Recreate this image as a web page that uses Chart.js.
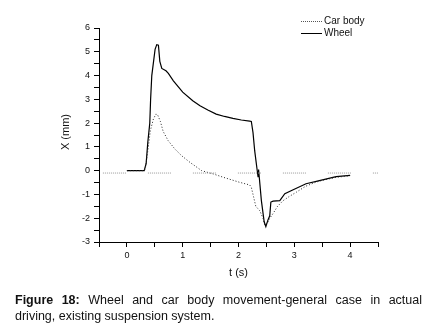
<!DOCTYPE html>
<html>
<head>
<meta charset="utf-8">
<script src="https://cdn.jsdelivr.net/npm/chart.js@4"></script>
<style>
  html, body { margin: 0; padding: 0; background: #fff; }
  #wrap { position: relative; width: 442px; height: 331px; }
  #chart { position: absolute; left: 0; top: 0; }
  #caption {
    position: absolute; left: 15px; top: 292px; width: 407px;
    font: 12.5px "Liberation Sans", Arial, sans-serif; line-height: 16px;
    color: #111;
  }
  #caption .l1 { text-align: justify; text-align-last: justify; white-space: nowrap; }
</style>
</head>
<body>
<div id="wrap">
  <canvas id="chart" width="442" height="331"></canvas>
  <div id="caption">
    <div class="l1"><b>Figure 18:</b> Wheel and car body movement-general case in actual</div>
    <div>driving, existing suspension system.</div>
  </div>
</div>
<script>
// time (s) and displacement (mm)
const wheelT = [0, 0.31, 0.345, 0.375, 0.41, 0.425, 0.446, 0.505, 0.535, 0.565, 0.59, 0.625, 0.7, 0.743, 0.833, 1.0, 1.18, 1.31, 1.45, 1.6, 1.75, 1.9, 2.05, 2.2, 2.23, 2.26, 2.29, 2.33, 2.35, 2.36, 2.41, 2.46, 2.49, 2.53, 2.56, 2.58, 2.62, 2.74, 2.83, 2.98, 3.21, 3.45, 3.75, 4.0];
const wheelX = [0, 0, 0.3, 1.2, 2.0, 3.0, 4.0, 5.1, 5.3, 5.28, 4.6, 4.3, 4.2, 4.09, 3.78, 3.3, 2.94, 2.73, 2.55, 2.38, 2.28, 2.2, 2.13, 2.08, 2.07, 1.6, 0.84, 0.1, -0.25, 0.05, -1.26, -2.15, -2.35, -2.06, -1.9, -1.32, -1.28, -1.26, -0.97, -0.8, -0.55, -0.42, -0.25, -0.2];

const bodyT = [0, 0.31, 0.33, 0.375, 0.42, 0.475, 0.52, 0.55, 0.6, 0.65, 0.74, 0.86, 0.98, 1.13, 1.34, 1.55, 1.73, 2.02, 2.2, 2.23, 2.27, 2.31, 2.38, 2.44, 2.47, 2.52, 2.56, 2.62, 2.7, 2.8, 2.9, 3.04, 3.2, 3.39, 3.55, 3.75, 3.9, 4.0];
const bodyX = [0, 0, 0.1, 0.84, 1.68, 2.17, 2.38, 2.35, 2.07, 1.65, 1.26, 0.91, 0.63, 0.35, 0, -0.14, -0.28, -0.49, -0.6, -0.7, -1.1, -1.5, -1.68, -2.0, -2.3, -2.2, -2.0, -1.8, -1.5, -1.26, -1.1, -0.9, -0.66, -0.48, -0.38, -0.28, -0.24, -0.21];

// faint reference line just under zero
const refT = [-0.43, 4.5];
const refX = [-0.1, -0.1];

const xTicks = [0, 1, 2, 3, 4];
const yTicks = [-3, -2, -1, 0, 1, 2, 3, 4, 5, 6];

function pts(t, v) {
  return t.map((tt, i) => ({ x: tt, y: v[i] }));
}

// dotted dashes separated by gaps
const refDash = [];
for (let i = 0; i < 12; i++) refDash.push(1, 1);
refDash[refDash.length - 1] = 22;

const FONT = '"Liberation Sans", Arial, sans-serif';

const extras = {
  id: 'extras',
  afterDraw(chart) {
    const { ctx, chartArea: { top, bottom, left, right } } = chart;
    ctx.save();
    ctx.fillStyle = '#111';
    ctx.font = '11px ' + FONT;
    ctx.textAlign = 'center';
    ctx.textBaseline = 'middle';
    ctx.fillText('t (s)', (left + right) / 2, 273);

    ctx.translate(66, 132);
    ctx.rotate(-Math.PI / 2);
    ctx.fillText('X (mm)', 0, 0);
    ctx.restore();

    // legend
    ctx.save();
    ctx.font = '10px ' + FONT;
    ctx.textAlign = 'left';
    ctx.textBaseline = 'middle';
    ctx.fillStyle = '#111';
    ctx.strokeStyle = '#555';
    ctx.lineWidth = 1;
    ctx.setLineDash([1, 1]);
    ctx.beginPath();
    ctx.moveTo(301, 21.5);
    ctx.lineTo(322, 21.5);
    ctx.stroke();
    ctx.setLineDash([]);
    ctx.strokeStyle = '#000';
    ctx.beginPath();
    ctx.moveTo(301, 33.5);
    ctx.lineTo(322, 33.5);
    ctx.stroke();
    ctx.fillText('Car body', 324, 21);
    ctx.fillText('Wheel', 324, 33);
    ctx.restore();
  },
};

new Chart(document.getElementById('chart'), {
  type: 'scatter',
  data: {
    datasets: [
      {
        label: 'ref',
        data: pts(refT, refX),
        showLine: true,
        borderColor: '#999',
        borderWidth: 1,
        borderDash: refDash,
        pointRadius: 0,
      },
      {
        label: 'Car body',
        data: pts(bodyT, bodyX),
        showLine: true,
        borderColor: '#222',
        borderWidth: 1,
        borderDash: [1, 2],
        pointRadius: 0,
      },
      {
        label: 'Wheel',
        data: pts(wheelT, wheelX),
        showLine: true,
        borderColor: '#000',
        borderWidth: 1.2,
        pointRadius: 0,
      },
    ],
  },
  options: {
    responsive: false,
    animation: false,
    layout: { padding: { top: 28, right: 64, left: 0, bottom: 0 } },
    plugins: {
      legend: { display: false },
      tooltip: { enabled: false },
    },
    scales: {
      x: {
        type: 'linear',
        min: -0.5,
        max: 4.5,
        afterFit: (s) => { s.height = 89; },
        border: { display: true, color: '#000', width: 1 },
        grid: { drawOnChartArea: false, drawTicks: true, tickLength: 5, color: '#000' },
        ticks: {
          stepSize: 0.5,
          padding: 3,
          color: '#111',
          font: { family: FONT, size: 9 },
          maxRotation: 0,
          autoSkip: false,
          callback: (v) => (xTicks.includes(v) ? String(v) : ''),
        },
      },
      y: {
        min: -3,
        max: 6,
        afterFit: (s) => { s.width = 99; },
        border: { display: true, color: '#000', width: 1 },
        grid: { drawOnChartArea: false, drawTicks: true, tickLength: 5, color: '#000' },
        ticks: {
          stepSize: 0.5,
          padding: 4,
          color: '#111',
          font: { family: FONT, size: 9 },
          autoSkip: false,
          callback: (v) => (yTicks.includes(v) ? String(v) : ''),
        },
      },
    },
  },
  plugins: [extras],
});
</script>
</body>
</html>
